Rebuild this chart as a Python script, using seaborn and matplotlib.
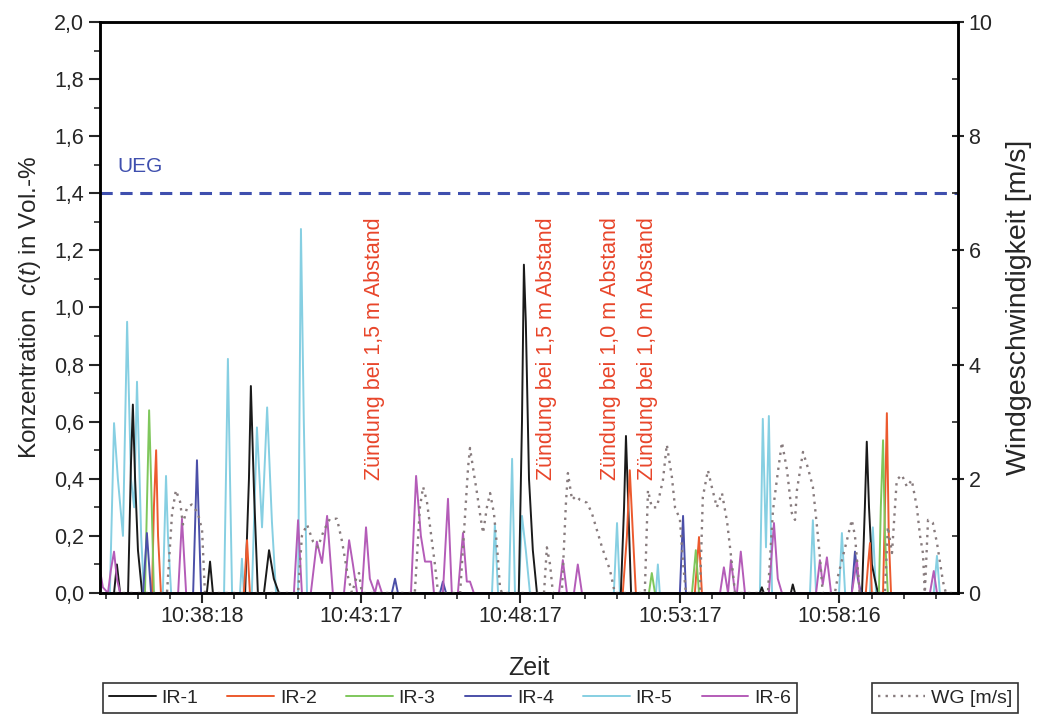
import numpy as np
import pandas as pd
import matplotlib
matplotlib.use('Agg')
import matplotlib.pyplot as plt
from matplotlib.lines import Line2D
from matplotlib.ticker import FixedLocator, MultipleLocator, FuncFormatter
import seaborn as sns

##################################################################
# data (time in minutes after START, concentration in Vol.-%, WG in m/s)
START = '10:35:06'
X_MAX = 26.90

ir1_t = [0.00, 0.44, 0.53, 0.63, 0.88, 0.97, 1.03, 1.10, 1.19, 1.32, 3.35, 3.45, 3.54, 4.55, 4.67, 4.73, 4.83, 4.95,
         5.14, 5.30, 5.45, 5.61, 13.13, 13.23, 13.29, 13.35, 13.45, 13.57, 13.70, 16.33, 16.43, 16.49, 16.55, 16.65,
         20.69, 20.75, 20.81, 21.66, 21.72, 21.79, 23.89, 23.98, 24.04, 24.11, 24.20, 24.29, 24.39, 26.90]
ir1_c = [0, 0, 0.10, 0, 0, 0.45, 0.66, 0.40, 0.15, 0, 0, 0.11, 0, 0, 0.40, 0.725, 0.35, 0,
         0, 0.15, 0.05, 0, 0, 0.60, 1.15, 0.95, 0.40, 0.15, 0, 0, 0.30, 0.55, 0.35, 0,
         0, 0.02, 0, 0, 0.03, 0, 0, 0.30, 0.53, 0.30, 0.10, 0.05, 0, 0]

ir2_t = [0.00, 1.63, 1.69, 1.76, 1.82, 1.91, 4.51, 4.61, 4.70, 16.39, 16.52, 16.61, 16.71, 16.80, 18.65, 18.78, 18.87,
         24.01, 24.08, 24.14, 24.20, 24.55, 24.61, 24.67, 24.73, 24.80, 26.90]
ir2_c = [0, 0, 0.30, 0.50, 0.20, 0, 0, 0.185, 0, 0, 0.20, 0.43, 0.20, 0, 0, 0.196, 0,
         0, 0.10, 0.175, 0, 0, 0.30, 0.63, 0.20, 0, 0]

ir3_t = [0.00, 1.41, 1.47, 1.54, 1.60, 1.69, 17.21, 17.30, 17.40, 18.56, 18.68, 18.78, 24.42, 24.48, 24.55, 24.61, 24.70, 26.90]
ir3_c = [0, 0, 0.30, 0.64, 0.40, 0, 0, 0.07, 0, 0, 0.15, 0, 0, 0.30, 0.535, 0.20, 0, 0]

ir4_t = [0.00, 1.35, 1.47, 1.60, 2.92, 3.04, 3.17, 9.15, 9.25, 9.34, 10.66, 10.75, 10.85, 18.18, 18.28, 18.37,
         23.57, 23.67, 23.76, 23.86, 26.90]
ir4_c = [0, 0, 0.21, 0, 0, 0.465, 0, 0, 0.05, 0, 0, 0.04, 0, 0, 0.27, 0,
         0, 0.145, 0.05, 0, 0]

ir5_t = [0.00, 0.31, 0.44, 0.56, 0.72, 0.85, 0.97, 1.07, 1.16, 1.29, 1.38, 1.97, 2.07, 2.13, 2.23, 3.89, 4.01, 4.14,
         4.39, 4.45, 4.51, 4.76, 4.92, 5.08, 5.24, 5.39, 5.52, 6.21, 6.30, 6.39, 6.49, 12.29, 12.38, 12.48, 12.82, 12.92,
         13.01, 13.13, 13.23, 13.35, 13.48, 16.11, 16.21, 16.30, 17.43, 17.49, 17.55, 20.69, 20.78, 20.88, 20.97, 21.07,
         22.26, 22.35, 22.45, 23.17, 23.26, 23.36, 24.14, 24.23, 24.33, 26.14, 26.24, 26.33, 26.90]
ir5_c = [0, 0, 0.595, 0.40, 0.20, 0.95, 0.40, 0.30, 0.74, 0.20, 0, 0, 0.41, 0.20, 0, 0, 0.82, 0,
         0, 0.12, 0, 0, 0.58, 0.23, 0.65, 0.25, 0, 0, 1.275, 0.60, 0, 0, 0.24, 0, 0, 0.47,
         0, 0, 0.27, 0.15, 0, 0, 0.245, 0, 0, 0.10, 0, 0, 0.61, 0.16, 0.62, 0,
         0, 0.255, 0, 0, 0.21, 0, 0, 0.23, 0, 0, 0.13, 0, 0]

ir6_t = [0.00, 0.09, 0.25, 0.34, 0.44, 0.53, 0.63, 2.45, 2.57, 2.70, 6.08, 6.21, 6.33, 6.61, 6.80, 6.96, 7.12, 7.30,
         7.65, 7.81, 7.93, 8.06, 8.21, 8.34, 8.46, 8.62, 8.71, 8.84, 9.75, 9.91, 10.06, 10.19, 10.38, 10.47, 10.75,
         10.91, 11.03, 11.22, 11.38, 11.50, 11.60, 11.72, 14.39, 14.51, 14.64, 14.86, 14.98, 15.11, 19.44, 19.56,
         19.69, 19.78, 19.91, 19.97, 20.09, 20.22, 20.97, 21.13, 21.25, 21.38, 22.45, 22.57, 22.66, 22.79, 22.92,
         23.57, 23.73, 23.82, 26.02, 26.14, 26.24, 26.90]
ir6_c = [0.08, 0.02, 0, 0.08, 0.145, 0.05, 0, 0, 0.26, 0, 0, 0.255, 0, 0, 0.18, 0.105, 0.27, 0,
         0, 0.185, 0.10, 0, 0, 0.23, 0.05, 0, 0.045, 0, 0, 0.41, 0.20, 0.11, 0.11, 0, 0,
         0.33, 0, 0, 0.21, 0.04, 0.04, 0, 0, 0.115, 0, 0, 0.10, 0, 0, 0.09,
         0, 0.115, 0, 0, 0.145, 0, 0, 0.245, 0.05, 0, 0, 0.115, 0.03, 0.125, 0,
         0, 0.115, 0, 0, 0.077, 0, 0]

wg_t = [0.00, 2.10, 2.26, 2.38, 2.51, 2.60, 2.73, 2.88, 3.07, 3.20, 3.29,
        6.21, 6.33, 6.49, 6.68, 6.83, 7.02, 7.21, 7.43, 7.59, 7.77, 7.90, 8.03, 8.12, 8.21,
        9.87, 10.03, 10.13, 10.25, 10.34, 10.50, 10.60,
        11.29, 11.41, 11.54, 11.60, 11.72, 11.82, 11.91, 12.01, 12.13, 12.23, 12.35, 12.45, 12.54, 12.60,
        13.92, 14.01, 14.11, 14.20,
        14.48, 14.61, 14.67, 14.80, 14.92, 15.05, 15.27, 15.42, 15.58, 15.74, 15.99, 16.14,
        17.08, 17.18, 17.30, 17.46, 17.65, 17.77, 17.93, 18.03, 18.18, 18.28, 18.37,
        18.81, 18.90, 19.06, 19.18, 19.34, 19.50, 19.66, 19.81, 19.91,
        20.94, 21.10, 21.22, 21.38, 21.54, 21.69, 21.79, 21.85, 22.04, 22.19, 22.35, 22.48, 22.57, 22.66,
        23.04, 23.13, 23.42, 23.57, 23.67, 23.82,
        24.61, 24.70, 24.83, 24.98, 25.14, 25.30, 25.45, 25.61, 25.71, 25.80, 25.86, 25.96, 26.11, 26.24, 26.43, 26.52,
        26.90]
wg_v = [0, 0, 1.4, 1.8, 1.6, 1.2, 1.5, 1.55, 1.4, 1.1, 0,
        0, 1.0, 1.2, 0.9, 0.8, 1.1, 1.3, 1.3, 0.9, 0.3, 0, 0.25, 0.35, 0,
        0, 1.5, 1.86, 1.6, 1.2, 0.5, 0,
        0, 1.05, 2.2, 2.54, 2.1, 1.75, 1.4, 1.05, 1.5, 1.75, 1.4, 0.8, 0.1, 0,
        0, 0.8, 0.5, 0,
        0, 1.6, 2.1, 1.63, 1.7, 1.63, 1.58, 1.4, 1.1, 0.8, 0.4, 0,
        0, 1.8, 1.5, 1.5, 1.98, 2.6, 2.03, 1.49, 1.3, 0.52, 0,
        0, 1.68, 2.15, 1.86, 1.5, 1.75, 1.25, 0.52, 0,
        0, 1.45, 1.98, 2.64, 2.15, 1.4, 1.28, 1.8, 2.47, 2.2, 1.86, 1.16, 0.63, 0,
        0, 0.28, 0.93, 1.28, 1.0, 0,
        0, 1.16, 0.7, 1.98, 2.07, 1.86, 1.98, 1.5, 1.0, 0.7, 0, 1.28, 1.23, 0.88, 0.2, 0,
        0]

sensors = ['IR-1', 'IR-2', 'IR-3', 'IR-4', 'IR-5', 'IR-6']
tick_labels = ['10:38:18', '10:43:17', '10:48:17', '10:53:17', '10:58:16']
UEG = 1.4
events = ['Zündung bei 1,5 m Abstand', 'Zündung bei 1,5 m Abstand',
          'Zündung bei 1,0 m Abstand', 'Zündung bei 1,0 m Abstand']
event_t = [8.62, 14.01, 15.99, 17.18]

##################################################################
colors = ['#1a1a1a', '#ec5a2e', '#7fc75c', '#4b4fa8', '#86cfe2', '#b45cb8']
wg_color = '#877b7d'
ueg_color = '#3f4fae'
red_txt = '#e8452a'

sns.set_style('ticks')
plt.rcParams['font.family'] = ['Liberation Sans', 'DejaVu Sans']
plt.rcParams['mathtext.fontset'] = 'custom'
plt.rcParams['mathtext.it'] = 'Liberation Sans:italic'
plt.rcParams['mathtext.rm'] = 'Liberation Sans'

frames = []
for name, t, c in zip(sensors, [ir1_t, ir2_t, ir3_t, ir4_t, ir5_t, ir6_t],
                      [ir1_c, ir2_c, ir3_c, ir4_c, ir5_c, ir6_c]):
    frames.append(pd.DataFrame({'t': t, 'c': c, 'Sensor': name}))
df = pd.concat(frames, ignore_index=True)
df_wg = pd.DataFrame({'t': wg_t, 'wg': wg_v})

fig = plt.figure(figsize=(10.38, 7.18), dpi=100)
ax = fig.add_axes([100/1038, 1-593/718, 858/1038, 571/718])
ax2 = ax.twinx()

draw_order = ['IR-5', 'IR-1', 'IR-2', 'IR-3', 'IR-4', 'IR-6']
pal = dict(zip(sensors, colors))
for s in draw_order:
    sns.lineplot(data=df[df.Sensor == s], x='t', y='c', color=pal[s], ax=ax,
                 estimator=None, sort=False, lw=1.4, legend=False)

sns.lineplot(data=df_wg, x='t', y='wg', ax=ax2, color=wg_color, estimator=None,
             sort=False, lw=1.7, linestyle=(0, (1, 2.2)), legend=False)

ax.axhline(UEG, color=ueg_color, lw=2.2, ls=(0, (4, 2.5)))
ax.text(0.55, UEG + 0.06, 'UEG', color=ueg_color, fontsize=15, ha='left', va='bottom')

for txt, t in zip(events, event_t):
    ax.text(t, 0.395, txt, rotation=90, color=red_txt, fontsize=15.5, ha='center', va='bottom')

# axes formatting
ax.set_xlim(0, X_MAX)
ax.set_ylim(0, 2.0)
ax2.set_ylim(0, 10)

h0, m0, s0 = [int(v) for v in START.split(':')]
def to_min(lbl):
    h, m, s = [int(v) for v in lbl.split(':')]
    return (h*3600 + m*60 + s - (h0*3600 + m0*60 + s0)) / 60.0
major = [to_min(l) for l in tick_labels]
minor = np.arange(major[0] - 4, X_MAX, 1.0)
minor = [m for m in minor if m >= 0 and all(abs(m - M) > 0.1 for M in major)]
ax.xaxis.set_major_locator(FixedLocator(major))
ax.set_xticklabels(tick_labels)
ax.xaxis.set_minor_locator(FixedLocator(minor))

ax.yaxis.set_major_locator(MultipleLocator(0.2))
ax.yaxis.set_minor_locator(MultipleLocator(0.1))
ax.yaxis.set_major_formatter(FuncFormatter(lambda v, p: ('%.1f' % v).replace('.', ',')))
ax2.yaxis.set_major_locator(MultipleLocator(2))
ax2.yaxis.set_minor_locator(MultipleLocator(1))

fz = 15.5
ax.tick_params(axis='both', which='major', labelsize=fz, length=8, width=1.5, direction='out')
ax.tick_params(axis='both', which='minor', length=4, width=1.2, direction='out')
ax2.tick_params(axis='y', which='major', labelsize=fz, length=8, width=1.5, direction='inout')
ax2.tick_params(axis='y', which='minor', length=4, width=1.2, direction='in')
ax.tick_params(axis='x', which='major', pad=2, length=7)

for a in [ax, ax2]:
    for sp in a.spines.values():
        sp.set_linewidth(1.8)
        sp.set_color('black')

ax.set_xlabel('Zeit', fontsize=18, labelpad=21)
ax.set_ylabel(r'Konzentration  $c$($t$) in Vol.-%', fontsize=17.5, labelpad=8)
ax2.set_ylabel('Windgeschwindigkeit [m/s]', fontsize=20.5, labelpad=10)

# legends
ir_handles = [Line2D([], [], color=c, lw=1.4) for c in colors]
leg1 = fig.legend(ir_handles, sensors, loc='center', bbox_to_anchor=(450/1038, 1-698/718), ncol=6,
                  fontsize=14, frameon=True, fancybox=False, edgecolor='black', handlelength=2.4,
                  columnspacing=1.5, handletextpad=0.3, borderpad=0.3)
leg1.get_frame().set_linewidth(1.2)
wg_handle = [Line2D([], [], color=wg_color, lw=1.7, linestyle=(0, (1, 2.2)))]
leg2 = fig.legend(wg_handle, ['WG [m/s]'], loc='center', bbox_to_anchor=(945/1038, 1-698/718),
                  fontsize=14, frameon=True, fancybox=False, edgecolor='black', handlelength=2.4,
                  handletextpad=0.3, borderpad=0.3)
leg2.get_frame().set_linewidth(1.2)

fig.savefig('out.png', dpi=100)
